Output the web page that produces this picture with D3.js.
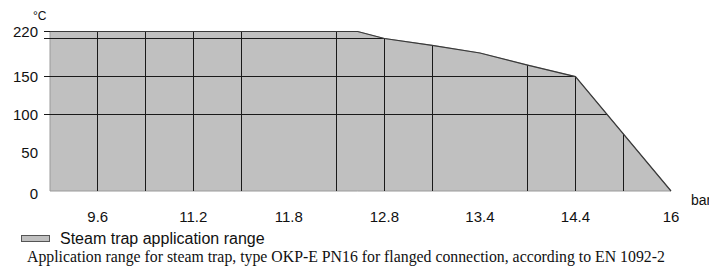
<!DOCTYPE html>
<html>
<head>
<meta charset="utf-8">
<script src="https://cdn.jsdelivr.net/npm/d3@7"></script>
<style>
  html, body { margin: 0; padding: 0; background: #fff; }
  svg { display: block; }
</style>
</head>
<body>
<svg id="chart"></svg>
<script>
// steam trap application range (pressure in bar, temperature in °C)

const WIDTH = 709;
const HEIGHT = 268;

// plot box
const left = 50;
const right = 671;
const bottom = 191;

// data
const xTickLabels = [9.6, 11.2, 11.8, 12.8, 13.4, 14.4, 16];
const yTickLabels = [0, 50, 100, 150, 220];
const pressure = [8.8, 12.52, 12.8, 13.1, 13.4, 13.9, 14.4, 16];
const temperature = [220, 220, 200, 191, 181, 165, 150, 0];
const xGrid = [9.6, 10.4, 11.2, 11.5, 12.3, 12.8, 13.1, 13.9, 14.4, 15.2];
const yGrid = [100, 150, 200];
const yTicks = [100, 150, 200, 220];

// scales (the axis in the original is not linear, labels are evenly spaced)
const step = (right - left) / (xTickLabels.length * 2 - 1);
const xScale = d3.scaleLinear()
	.domain(xTickLabels)
	.range(xTickLabels.map((d, i) => left + (i * 2 + 1) * step));

const yScale = d3.scaleLinear()
	.domain([0, 200, 220])
	.range([bottom, 38.5, 31.5]);

const svg = d3.select("#chart")
	.attr("width", WIDTH)
	.attr("height", HEIGHT)
	.attr("viewBox", `0 0 ${WIDTH} ${HEIGHT}`);

const points = pressure.map((p, i) => [p, temperature[i]]);

const area = d3.area()
	.x(d => xScale(d[0]))
	.y0(yScale(0))
	.y1(d => yScale(d[1]));

const line = d3.line()
	.x(d => xScale(d[0]))
	.y(d => yScale(d[1]));

// clip grid to the range area
svg.append("clipPath")
	.attr("id", "rangeClip")
	.append("path")
	.attr("d", area(points));

svg.append("path")
	.attr("d", area(points))
	.attr("fill", "#c0c0c0")
	.attr("stroke", "#9a9a9a")
	.attr("stroke-width", 1);

const grid = svg.append("g")
	.attr("clip-path", "url(#rangeClip)")
	.attr("shape-rendering", "crispEdges");

grid.selectAll("line.v")
	.data(xGrid)
	.join("line")
	.attr("class", "v")
	.attr("x1", d => xScale(d))
	.attr("x2", d => xScale(d))
	.attr("y1", yScale(0))
	.attr("y2", yScale(220) - 2)
	.attr("stroke", "#1a1a1a")
	.attr("stroke-width", 1);

grid.selectAll("line.h")
	.data(yGrid)
	.join("line")
	.attr("class", "h")
	.attr("x1", left)
	.attr("x2", right)
	.attr("y1", d => yScale(d))
	.attr("y2", d => yScale(d))
	.attr("stroke", "#1a1a1a")
	.attr("stroke-width", 1);

// outline of the upper boundary
svg.append("path")
	.attr("d", line(points))
	.attr("fill", "none")
	.attr("stroke", "#3a3a3a")
	.attr("stroke-width", 1.2);

// y ticks
svg.append("g")
	.attr("shape-rendering", "crispEdges")
	.selectAll("line")
	.data(yTicks)
	.join("line")
	.attr("x1", 44)
	.attr("x2", left)
	.attr("y1", d => yScale(d))
	.attr("y2", d => yScale(d))
	.attr("stroke", "#1a1a1a");

// y labels
svg.append("g")
	.style("font-family", "'Liberation Sans', Arial, sans-serif")
	.style("font-size", "15px")
	.attr("fill", "#111")
	.attr("text-anchor", "end")
	.selectAll("text")
	.data(yTickLabels)
	.join("text")
	.attr("x", 38)
	.attr("y", d => yScale(d) + (d === 0 ? 3 : 0))
	.attr("dy", "0.36em")
	.text(d => d);

svg.append("text")
	.attr("x", 33)
	.attr("y", 20)
	.style("font-family", "'Liberation Sans', Arial, sans-serif")
	.style("font-size", "12px")
	.attr("fill", "#111")
	.text("°C");

// x labels
svg.append("g")
	.style("font-family", "'Liberation Sans', Arial, sans-serif")
	.style("font-size", "15px")
	.attr("fill", "#111")
	.attr("text-anchor", "middle")
	.selectAll("text")
	.data(xTickLabels)
	.join("text")
	.attr("x", d => xScale(d))
	.attr("y", 217)
	.attr("dy", "0.36em")
	.text(d => d);

svg.append("text")
	.attr("x", 691)
	.attr("y", 200)
	.attr("dy", "0.36em")
	.style("font-family", "'Liberation Sans', Arial, sans-serif")
	.style("font-size", "14px")
	.attr("fill", "#111")
	.text("bar");

// legend
svg.append("rect")
	.attr("x", 21.5)
	.attr("y", 235.5)
	.attr("width", 28)
	.attr("height", 6)
	.attr("fill", "#c0c0c0")
	.attr("stroke", "#555");

svg.append("text")
	.attr("x", 60)
	.attr("y", 238)
	.attr("dy", "0.36em")
	.style("font-family", "'Liberation Sans', Arial, sans-serif")
	.style("font-size", "16px")
	.attr("fill", "#111")
	.text("Steam trap application range");

// caption
svg.append("text")
	.attr("x", 27)
	.attr("y", 262)
	.style("font-family", "'Liberation Serif', 'Times New Roman', serif")
	.style("font-size", "15.8px")
	.attr("fill", "#111")
	.text("Application range for steam trap, type OKP-E PN16 for flanged connection, according to EN 1092-2");
</script>
</body>
</html>
